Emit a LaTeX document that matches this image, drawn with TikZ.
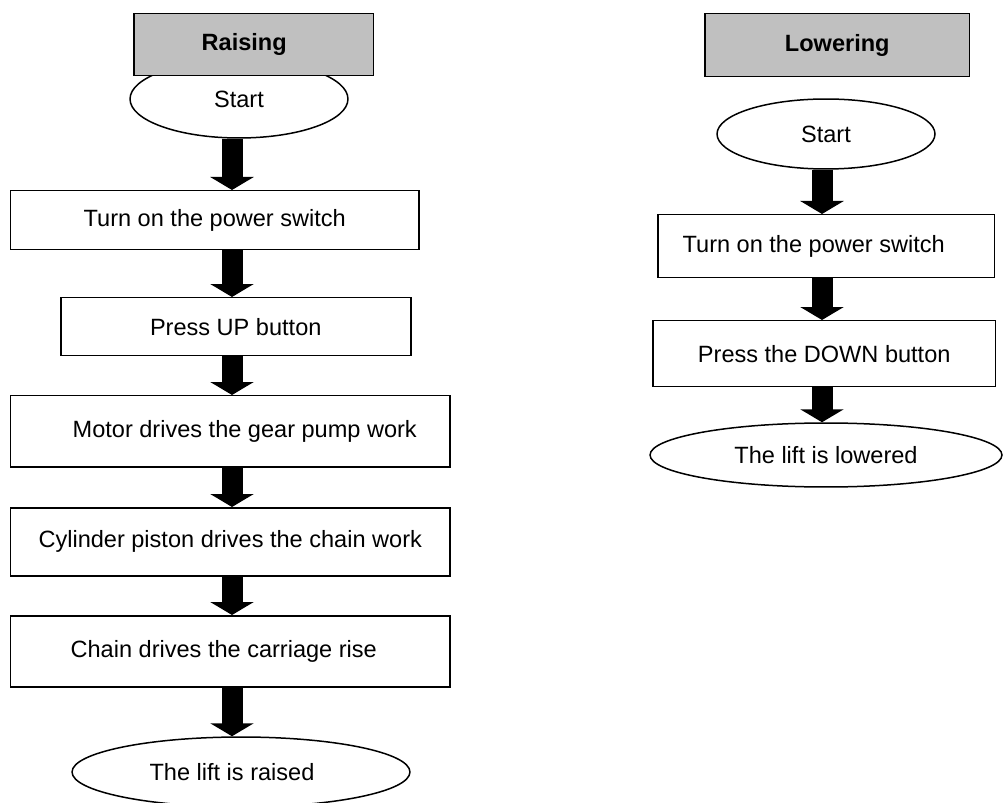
\documentclass[tikz,border=0pt]{standalone}
\usepackage{fontspec}
\setmainfont{Liberation Sans}
\definecolor{colhead}{RGB}{192,192,192}
\usetikzlibrary{
	arrows,
	arrows.meta,
	positioning,
	shapes.geometric
}
\tikzset{
	>=stealth',
	headnode/.style={draw, fill=colhead, line width=0.03cm, font=\fontsize{13.4}{16}\selectfont\bfseries, inner sep=0pt, anchor=north west},
	stepnode/.style={draw, fill=white, line width=0.03cm, inner sep=0pt, anchor=north west},
	termnode/.style={ellipse, draw, fill=white, line width=0.03cm, inner sep=0pt},
	flowarrow/.style={line width=0.42cm, -{Triangle[width=0.86cm, length=0.26cm]}}
}

\begin{document}
\begin{tikzpicture}[x=0.02cm, y=-0.02cm, font=\fontsize{13.4}{16}\selectfont]
	\useasboundingbox (0,0) rectangle (1003,803);
	\coordinate (axL) at (232,0);
	\coordinate (axR) at (822,0);

	% raising
	\node[termnode, minimum width=4.36cm, minimum height=1.56cm] (start1) at (239,99) {Start};
	\node[headnode, minimum width=4.8cm, minimum height=1.24cm] (headL) at (133,13) {Raising\hspace*{0.38cm}};
	\foreach \name/\x/\y/\w/\h/\txt in {
		box1/10/190/408/59/{Turn on the power switch},
		box2/60/297/350/58/{Press UP button},
		box3/10/395/439/71/{\hspace*{0.58cm}Motor drives the gear pump work},
		box4/10/507/439/68/{Cylinder piston drives the chain work},
		box5/10/615/439/71/{Chain drives the carriage rise\hspace*{0.26cm}}} {
		\node[stepnode, minimum width=\w*0.02cm, minimum height=\h*0.02cm] (\name) at (\x,\y) {\txt};
	}
	\node[termnode, minimum width=6.76cm, minimum height=1.4cm] (end1) at (241,772) {The lift is raised\hspace*{0.36cm}};
	\foreach \a/\b in {start1/box1, box1/box2, box2/box3, box3/box4, box4/box5, box5/end1} {
		\draw[flowarrow] (axL |- \a.south) -- (axL |- \b.north);
	}

	% lowering
	\node[headnode, minimum width=5.3cm, minimum height=1.26cm] (headR) at (704,13) {Lowering};
	\node[termnode, minimum width=4.36cm, minimum height=1.4cm] (start2) at (826,134) {Start};
	\node[stepnode, minimum width=6.74cm, minimum height=1.26cm] (rbox1) at (657,214) {Turn on the power switch\hspace*{0.5cm}};
	\node[stepnode, minimum width=6.86cm, minimum height=1.32cm] (rbox2) at (652,320) {Press the DOWN button};
	\node[termnode, minimum width=7.04cm, minimum height=1.28cm] (end2) at (826,455) {The lift is lowered};
	\foreach \a/\b in {start2/rbox1, rbox1/rbox2, rbox2/end2} {
		\draw[flowarrow] (axR |- \a.south) -- (axR |- \b.north);
	}
\end{tikzpicture}
\end{document}
